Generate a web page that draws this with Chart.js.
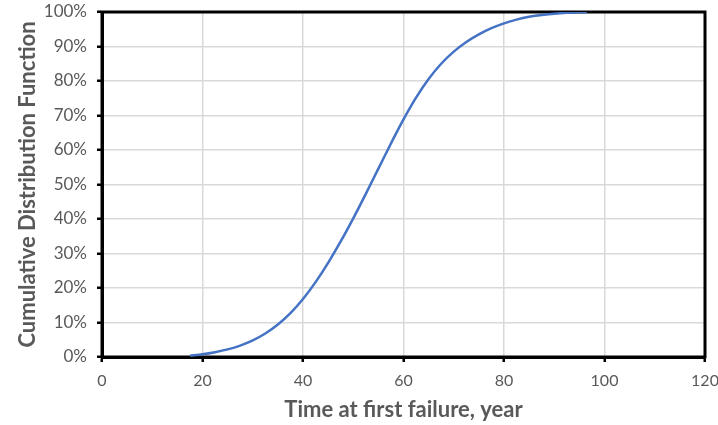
<!DOCTYPE html>
<html>
<head>
<meta charset="utf-8">
<script src="https://cdn.jsdelivr.net/npm/chart.js@4/dist/chart.umd.min.js"></script>
<style>
html,body{margin:0;padding:0;background:#fff;}
#c{display:block;}
</style>
</head>
<body>
<canvas id="c" width="718" height="425"></canvas>
<script>
const years = [17.5, 20, 22.5, 25, 27.5, 30, 32.5, 35, 37.5, 40, 42.5, 45, 47.5, 50, 52.5, 55, 57.5, 60, 62.5, 65, 67.5, 70, 72.5, 75, 77.5, 80, 82.5, 85, 87.5, 90, 92.5, 95, 96.5];
const cdfPercent = [0.4, 0.8, 1.4, 2.2, 3.3, 4.8, 6.8, 9.4, 12.7, 16.8, 21.7, 27.3, 33.5, 40.2, 47.3, 54.6, 61.9, 68.9, 75.2, 80.6, 85.0, 88.5, 91.3, 93.5, 95.3, 96.7, 97.8, 98.6, 99.1, 99.5, 99.75, 99.9, 100];
const xTicks = [0, 20, 40, 60, 80, 100, 120];
const yTickPercents = [0, 10, 20, 30, 40, 50, 60, 70, 80, 90, 100];
const xTitle = 'Time at first failure, year';
const yTitle = 'Cumulative Distribution Function';

const points = years.map((x, i) => ({x: x, y: cdfPercent[i] / 100}));
const FONT = "Lato, 'Open Sans', 'Liberation Sans', sans-serif";

const borderPlugin = {
  id: 'plotBorder',
  beforeDatasetsDraw(chart) {
    const a = chart.chartArea, ctx = chart.ctx;
    ctx.save();
    ctx.strokeStyle = '#000';
    ctx.lineWidth = 3;
    ctx.strokeRect(a.left, a.top, a.right - a.left, a.bottom - a.top);
    ctx.restore();
  }
};

new Chart(document.getElementById('c'), {
  type: 'scatter',
  data: {
    datasets: [{
      data: points,
      showLine: true,
      borderColor: '#4472C4',
      borderWidth: 2.5,
      pointRadius: 0,
      cubicInterpolationMode: 'monotone',
      fill: false
    }]
  },
  options: {
    responsive: false,
    animation: false,
    layout: {padding: {top: 12, right: 0, left: 0, bottom: 0}},
    plugins: {legend: {display: false}, tooltip: {enabled: false}},
    scales: {
      x: {
        type: 'linear',
        min: 0, max: 120,
        afterBuildTicks(s) { s.ticks = xTicks.map(v => ({value: v})); },
        afterFit(s) { s.height = 68; s.paddingLeft = 0; s.paddingRight = 13; },
        grid: {color: '#d9d9d9', lineWidth: 1.5, tickColor: '#000', tickWidth: 2.5, tickLength: 5},
        border: {color: '#000', width: 3},
        ticks: {color: '#595959', font: {family: FONT, size: 16}, padding: 9, maxRotation: 0},
        title: {display: true, text: xTitle, color: '#595959', font: {family: FONT, size: 22, weight: 'bold'}, padding: {top: 4, bottom: 2}}
      },
      y: {
        type: 'linear',
        min: 0, max: 1,
        afterBuildTicks(s) { s.ticks = yTickPercents.map(v => ({value: v / 100})); },
        afterFit(s) { s.width = 102; s.paddingTop = 0; s.paddingBottom = 0; },
        grid: {color: '#d9d9d9', lineWidth: 1.5, tickColor: '#000', tickWidth: 2.5, tickLength: 5},
        border: {color: '#000', width: 3},
        ticks: {color: '#595959', font: {family: FONT, size: 17}, padding: 10,
          callback: (v) => Math.round(v * 100) + '%'},
        title: {display: true, text: yTitle, color: '#595959', font: {family: FONT, size: 22, weight: 'bold'}, padding: {top: 15, bottom: 0}}
      }
    }
  },
  plugins: [borderPlugin]
});
</script>
</body>
</html>
